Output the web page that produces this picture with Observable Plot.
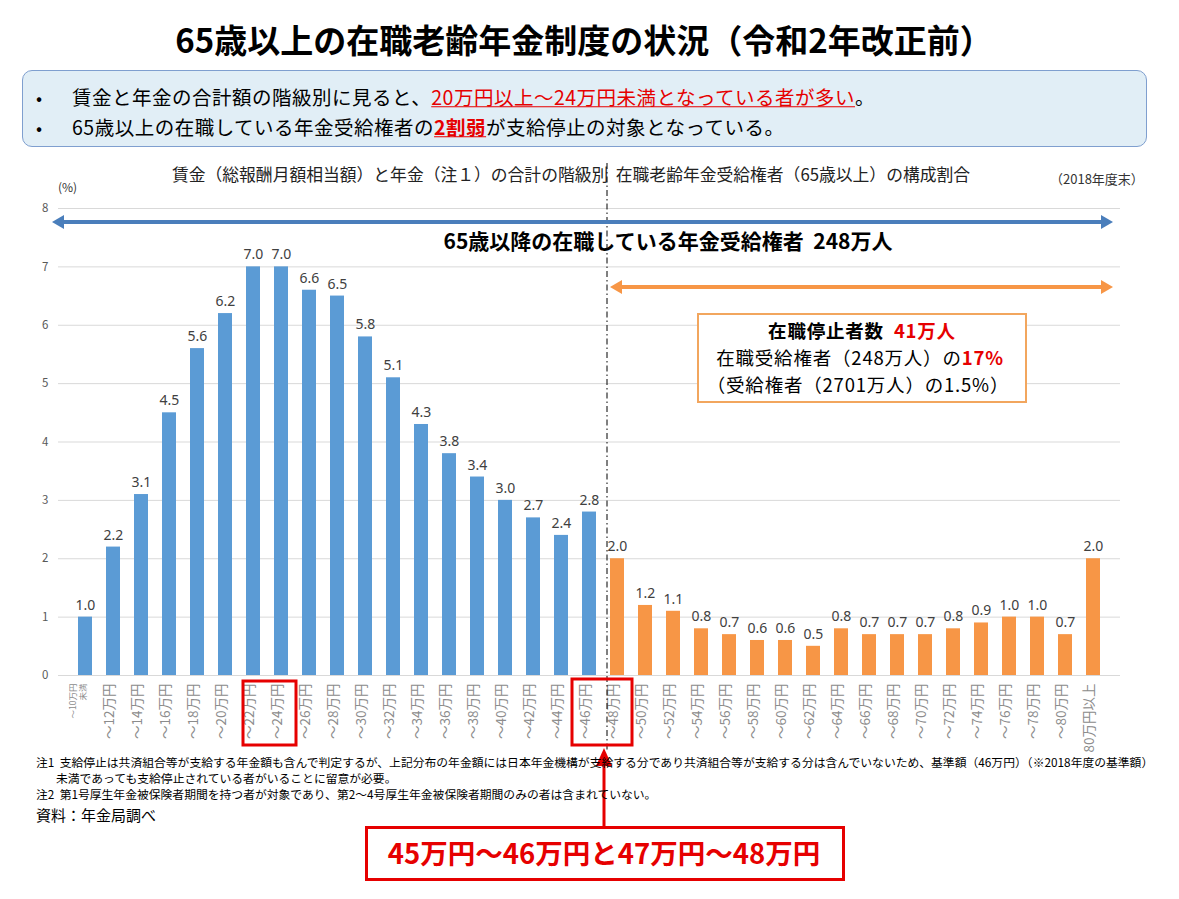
<!DOCTYPE html>
<html><head><meta charset="utf-8">
<script src="https://cdn.jsdelivr.net/npm/d3@7"></script>
<script src="https://cdn.jsdelivr.net/npm/@observablehq/plot@0.6"></script>
<style>
body{margin:0;background:#fff;}
#page{position:relative;width:1179px;height:899px;overflow:hidden;font-family:"Noto Sans CJK JP","Noto Sans",sans-serif;color:#000;}
.abs{position:absolute;white-space:nowrap;line-height:1.15;}
.c{transform:translate(-50%,-50%);}
.l{transform:translateY(-50%);}
#plot{position:absolute;left:0;top:170px;}
#ov{position:absolute;left:0;top:0;pointer-events:none;}
.red{color:#e60000;}
.bx{font-size:18.5px;letter-spacing:0.8px;line-height:1;}
.bl{font-size:19.5px;letter-spacing:0.5px;line-height:1;}
</style></head>
<body><div id="page">
<div class="abs c" style="left:584px;top:40px;font-size:33px;font-weight:700;">65歳以上の在職老齢年金制度の状況（令和2年改正前）</div>
<div class="abs" style="left:22px;top:70px;width:1123px;height:75px;border:1.5px solid #7f9fcf;border-radius:10px;background:#e1eef6;"></div>
<div class="abs l" style="left:36px;top:97px;font-size:18px;line-height:1;">•</div>
<div class="abs l bl" style="left:72px;top:97px;">賃金と年金の合計額の階級別に見ると、<span class="red" style="text-decoration:underline;">20万円以上～24万円未満となっている者が多い</span>。</div>
<div class="abs l" style="left:36px;top:126.5px;font-size:18px;line-height:1;">•</div>
<div class="abs l bl" style="left:72px;top:126.5px;">65歳以上の在職している年金受給権者の<span class="red" style="text-decoration:underline;font-weight:700;">2割弱</span>が支給停止の対象となっている。</div>
<div class="abs c" style="left:571px;top:175px;font-size:16.8px;color:#222;">賃金（総報酬月額相当額）と年金（注１）の合計の階級別&nbsp;&nbsp;在職老齢年金受給権者（65歳以上）の構成割合</div>
<div class="abs l" style="left:1050px;top:179px;font-size:13px;color:#333;">（2018年度末）</div>
<div class="abs l" style="left:58px;top:187px;font-size:12px;color:#333;">(%)</div>
<div id="plot"></div>
<svg id="ov" width="1179" height="899"></svg>
<div class="abs c" style="left:668px;top:240px;font-size:21px;font-weight:700;">65歳以降の在職している年金受給権者&nbsp;&nbsp;248万人</div>
<div class="abs" style="left:697px;top:313px;width:326px;height:86px;border:2.5px solid #f2a65e;background:#fff;"></div>
<div class="abs c bx" style="left:862px;top:330px;font-weight:700;">在職停止者数&nbsp;&nbsp;<span class="red">41万人</span></div>
<div class="abs c bx" style="left:860px;top:357px;">在職受給権者（248万人）の<span class="red" style="font-weight:700;">17%</span></div>
<div class="abs c bx" style="left:858px;top:384px;">（受給権者（2701万人）の1.5%）</div>
<div class="abs l" style="left:36px;top:762px;font-size:11.8px;">注1&nbsp;&nbsp;支給停止は共済組合等が支給する年金額も含んで判定するが、上記分布の年金額には日本年金機構が支給する分であり共済組合等が支給する分は含んでいないため、基準額（46万円）（※2018年度の基準額）</div>
<div class="abs l" style="left:56px;top:778px;font-size:11.8px;">未満であっても支給停止されている者がいることに留意が必要。</div>
<div class="abs l" style="left:36px;top:794px;font-size:11.8px;">注2&nbsp;&nbsp;第1号厚生年金被保険者期間を持つ者が対象であり、第2～4号厚生年金被保険者期間のみの者は含まれていない。</div>
<div class="abs l" style="left:36px;top:815px;font-size:15px;">資料：年金局調べ</div>
<div class="abs" style="left:365px;top:826px;width:474px;height:49px;border:3px solid #e60000;background:#fff;"></div>
<div class="abs c red" style="left:604px;top:853px;font-size:27.5px;font-weight:700;">45万円～46万円と47万円～48万円</div>
</div>
<script>
const blueCats = ["～10万円\n未満","～12万円","～14万円","～16万円","～18万円","～20万円","～22万円","～24万円","～26万円","～28万円","～30万円","～32万円","～34万円","～36万円","～38万円","～40万円","～42万円","～44万円","～46万円"];
const blueVals = [1.0,2.2,3.1,4.5,5.6,6.2,7.0,7.0,6.6,6.5,5.8,5.1,4.3,3.8,3.4,3.0,2.7,2.4,2.8];
const orangeCats = ["～48万円","～50万円","～52万円","～54万円","～56万円","～58万円","～60万円","～62万円","～64万円","～66万円","～68万円","～70万円","～72万円","～74万円","～76万円","～78万円","～80万円","80万円以上"];
const orangeVals = [2.0,1.2,1.1,0.8,0.7,0.6,0.6,0.5,0.8,0.7,0.7,0.7,0.8,0.9,1.0,1.0,0.7,2.0];
const yTicks = [0,1,2,3,4,5,6,7,8];

const cats = [...blueCats, ...orangeCats];
const data = [
  ...blueCats.map((c,i)=>({cat:c, v:blueVals[i], g:"stop-free"})),
  ...orangeCats.map((c,i)=>({cat:c, v:orangeVals[i], g:"stopped"}))
];

const chart = Plot.plot({
  width:1179, height:595,
  marginTop:38, marginBottom:90, marginLeft:58, marginRight:59,
  style:{fontFamily:"'Noto Sans CJK JP','Noto Sans',sans-serif", background:"transparent"},
  x:{domain:cats, paddingInner:0.5, paddingOuter:0.345, axis:null},
  y:{domain:[0,8], axis:null},
  color:{domain:["stop-free","stopped"], range:["#5b9bd5","#f79646"]},
  marks:[
    Plot.gridY(yTicks.slice(1), {stroke:"#d9d9d9", strokeOpacity:1}),
    Plot.axisY(yTicks, {tickSize:0, tickPadding:10, fontSize:11.5, fill:"#595959", label:null, tickFormat:"d"}),
    Plot.ruleY([0], {stroke:"#d9d9d9"}),
    Plot.barY(data, {x:"cat", y:"v", fill:"g"}),
    Plot.text(data, {x:"cat", y:"v", text:d=>d.v.toFixed(1), dy:-12, fontSize:14, fill:"#404040", fontFamily:"'Noto Sans',sans-serif"}),
    Plot.text(cats, {x:d=>d, frameAnchor:"bottom", dy:8, rotate:-90, textAnchor:"end", fontSize:d=>d.includes("\n")?8.5:13.5, lineHeight:1.1, fill:"#8c8c8c"})
  ]
});
document.getElementById("plot").appendChild(chart);

// overlay annotations, positioned with the chart's own x scale
const xs = chart.scale("x");
const cx = c => xs.apply(c) + xs.bandwidth/2;
const ov = d3.select("#ov");
const sepX = xs.apply("～48万円") - 3;
ov.append("line").attr("x1",sepX).attr("x2",sepX).attr("y1",163).attr("y2",750)
  .attr("stroke","#000").attr("stroke-width",1).attr("stroke-dasharray","6,3,1.5,3");

function dblArrow(x1,x2,y,color){
  const h=12, w=7;
  ov.append("line").attr("x1",x1+h).attr("x2",x2-h).attr("y1",y).attr("y2",y).attr("stroke",color).attr("stroke-width",4);
  ov.append("path").attr("d",`M${x1},${y}L${x1+h},${y-w}L${x1+h},${y+w}Z`).attr("fill",color);
  ov.append("path").attr("d",`M${x2},${y}L${x2-h},${y-w}L${x2-h},${y+w}Z`).attr("fill",color);
}
dblArrow(52, 1113, 222, "#4a7ebb");
dblArrow(sepX+3, 1113, 287, "#f79646");

// red boxes around labels
ov.append("rect").attr("x",cx("～22万円")-10).attr("y",681).attr("width",cx("～24万円")+15-(cx("～22万円")-10)).attr("height",64)
  .attr("fill","none").attr("stroke","#e60000").attr("stroke-width",3);
ov.append("rect").attr("x",cx("～46万円")-17).attr("y",679).attr("width",cx("～48万円")+15-(cx("～46万円")-17)).attr("height",66)
  .attr("fill","none").attr("stroke","#e60000").attr("stroke-width",3);
// red arrow
ov.append("line").attr("x1",604).attr("x2",604).attr("y1",826).attr("y2",764).attr("stroke","#e60000").attr("stroke-width",3);
ov.append("path").attr("d","M604,748L596,766L612,766Z").attr("fill","#e60000");
</script>
</body></html>
